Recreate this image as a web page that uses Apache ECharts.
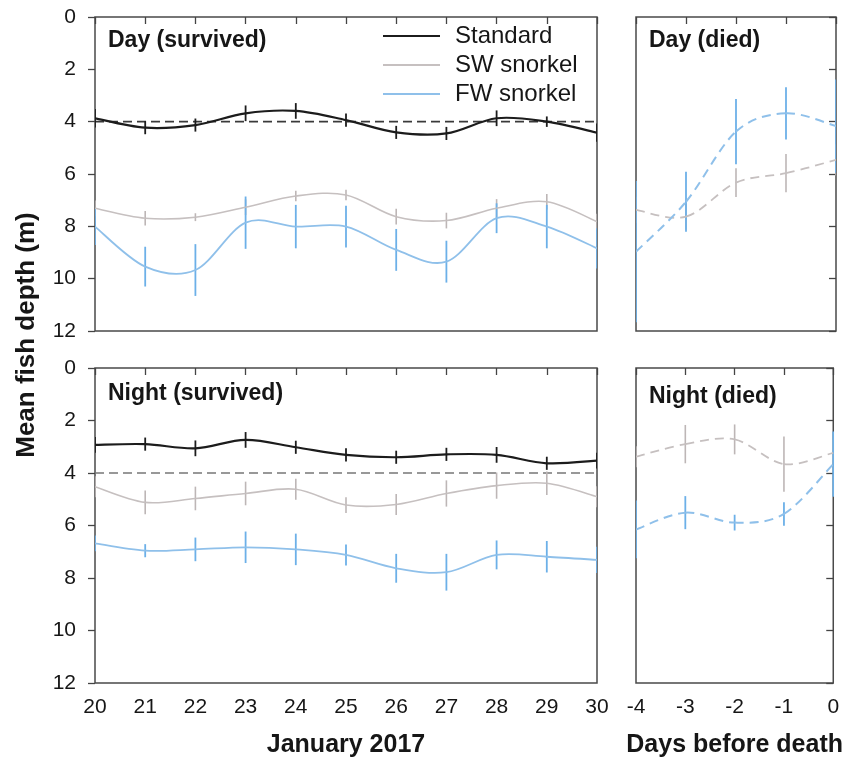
<!DOCTYPE html>
<html>
<head>
<meta charset="utf-8">
<script src="https://cdn.jsdelivr.net/npm/echarts@6/dist/echarts.min.js"></script>
<style>
html,body{margin:0;padding:0;background:#fff;}
#chart{width:845px;height:764px;}
</style>
</head>
<body>
<div id="chart"></div>
<script>
// ---- data ----
var janDays = [20, 21, 22, 23, 24, 25, 26, 27, 28, 29, 30];
var daysBefore = [-4, -3, -2, -1, 0];
var depthTicks = [0, 2, 4, 6, 8, 10, 12];
var seriesNames = ['Standard', 'SW snorkel', 'FW snorkel'];

// Day (survived)
var daySurvStd    = [3.87, 4.23, 4.13, 3.68, 3.59, 3.94, 4.41, 4.45, 3.87, 4.00, 4.42];
var daySurvStdErr = [0.35, 0.25, 0.25, 0.30, 0.30, 0.25, 0.25, 0.25, 0.30, 0.20, 0.35];
var daySurvSW     = [7.31, 7.69, 7.65, 7.27, 6.84, 6.80, 7.63, 7.78, 7.31, 7.06, 7.82];
var daySurvSWErr  = [0.30, 0.28, 0.15, 0.30, 0.20, 0.20, 0.30, 0.30, 0.35, 0.30, 0.30];
var daySurvFW     = [8.01, 9.54, 9.67, 7.86, 8.01, 8.01, 8.90, 9.35, 7.69, 8.01, 8.84];
var daySurvFWErr  = [0.70, 0.76, 0.99, 1.00, 0.83, 0.80, 0.80, 0.80, 0.57, 0.83, 0.77];

// Day (died)
var dayDiedSW     = [7.37, 7.63, 6.33, 5.97, 5.46];
var dayDiedSWErr  = [0.50, 0.50, 0.55, 0.73, 0.60];
var dayDiedFW     = [8.97, 7.06, 4.38, 3.68, 4.17];
var dayDiedFWErr  = [2.70, 1.15, 1.25, 1.00, 1.78];

// Night (survived)
var nightSurvStd    = [2.93, 2.90, 3.06, 2.74, 3.02, 3.31, 3.40, 3.29, 3.31, 3.63, 3.53];
var nightSurvStdErr = [0.30, 0.25, 0.30, 0.30, 0.25, 0.25, 0.25, 0.25, 0.30, 0.25, 0.30];
var nightSurvSW     = [4.52, 5.12, 4.97, 4.78, 4.62, 5.22, 5.20, 4.78, 4.48, 4.39, 4.90];
var nightSurvSWErr  = [0.40, 0.45, 0.45, 0.45, 0.40, 0.30, 0.40, 0.50, 0.50, 0.45, 0.40];
var nightSurvFW     = [6.68, 6.96, 6.91, 6.83, 6.91, 7.12, 7.63, 7.78, 7.12, 7.19, 7.31];
var nightSurvFWErr  = [0.30, 0.25, 0.45, 0.60, 0.60, 0.40, 0.55, 0.70, 0.55, 0.60, 0.50];

// Night (died)
var nightDiedSW     = [3.38, 2.90, 2.72, 3.66, 3.23];
var nightDiedSWErr  = [0.40, 0.73, 0.57, 1.05, 0.50];
var nightDiedFW     = [6.15, 5.51, 5.89, 5.56, 3.66];
var nightDiedFWErr  = [1.10, 0.63, 0.30, 0.45, 1.24];

var referenceDepth = 4;

// ---- styles ----
var FONT = 'Liberation Sans, Arial, sans-serif';
var C_STD = '#1c1c1c', C_SW = '#c6c0c0', C_FW = '#8fc0ea';
var C_STD_E = '#1c1c1c', C_SW_E = '#bdb6b6', C_FW_E = '#6cb0e8';

function pairs(xs, ys) { return xs.map(function (x, i) { return [x, ys[i]]; }); }
function triples(xs, ys, es) { return xs.map(function (x, i) { return [x, ys[i], es[i]]; }); }

// Smooth spline line (Catmull-Rom through data points, mapped by the axes)
function lineSeries(name, idx, xs, ys, color, width, dashed) {
  var n = xs.length;
  return {
    name: name, type: 'custom', xAxisIndex: idx, yAxisIndex: idx, clip: true, silent: true, z: 3,
    itemStyle: { color: color },
    data: pairs(xs, ys),
    renderItem: function (params, api) {
      var i = params.dataIndex;
      if (i >= n - 1) return null;
      function P(k) { k = Math.max(0, Math.min(n - 1, k)); return api.coord([xs[k], ys[k]]); }
      var p0 = P(i - 1), p1 = P(i), p2 = P(i + 1), p3 = P(i + 2);
      return {
        type: 'bezierCurve',
        shape: {
          x1: p1[0], y1: p1[1], x2: p2[0], y2: p2[1],
          cpx1: p1[0] + (p2[0] - p0[0]) / 6, cpy1: p1[1] + (p2[1] - p0[1]) / 6,
          cpx2: p2[0] - (p3[0] - p1[0]) / 6, cpy2: p2[1] - (p3[1] - p1[1]) / 6
        },
        style: { stroke: color, lineWidth: width, fill: null, lineDash: dashed ? [9, 6] : null }
      };
    }
  };
}
function errSeries(idx, xs, ys, es, color, width) {
  return {
    type: 'custom', xAxisIndex: idx, yAxisIndex: idx, clip: true, silent: true, z: 2,
    data: triples(xs, ys, es),
    renderItem: function (params, api) {
      var x = api.value(0), y = api.value(1), e = api.value(2);
      var p1 = api.coord([x, y - e]), p2 = api.coord([x, y + e]);
      return { type: 'line', shape: { x1: p1[0], y1: p1[1], x2: p2[0], y2: p2[1] },
               style: { stroke: color, lineWidth: width } };
    }
  };
}
function refSeries(idx, color) {
  return {
    type: 'line', xAxisIndex: idx, yAxisIndex: idx, silent: true, z: 1,
    symbol: 'none', showSymbol: false,
    data: [[janDays[0], referenceDepth], [janDays[janDays.length - 1], referenceDepth]],
    lineStyle: { type: [9, 5], color: color, width: 1.7 }
  };
}

var grids = [
  { left: 95, top: 17, width: 502, height: 314 },
  { left: 636, top: 17, width: 200, height: 314 },
  { left: 95, top: 368, width: 502, height: 315 },
  { left: 636, top: 368, width: 200, height: 315 }
].map(function (g) {
  g.show = true; g.borderColor = '#4a4a4a'; g.borderWidth = 1.5; g.backgroundColor = 'transparent';
  return g;
});

function xAxis(idx, min, max, showLabel, name) {
  return {
    type: 'value', gridIndex: idx, min: min, max: max, interval: 1,
    axisLine: { show: false }, splitLine: { show: false },
    axisTick: { show: true, inside: false, length: 7, lineStyle: { color: '#444', width: 1.3 } },
    axisLabel: { show: showLabel, color: '#161616', fontFamily: FONT, fontSize: 21, margin: 14 },
    name: name || '', nameLocation: 'middle', nameGap: 50,
    nameTextStyle: { color: '#161616', fontFamily: FONT, fontSize: 25, fontWeight: 'bold' }
  };
}
function yAxis(idx, showLabel) {
  return {
    type: 'value', gridIndex: idx, min: depthTicks[0], max: depthTicks[depthTicks.length - 1],
    interval: 2, inverse: true,
    axisLine: { show: false }, splitLine: { show: false },
    axisTick: { show: true, inside: false, length: 7, lineStyle: { color: '#444', width: 1.3 } },
    axisLabel: { show: showLabel, color: '#161616', fontFamily: FONT, fontSize: 21, margin: 19 }
  };
}

var series = [
  // Day survived (grid 0)
  refSeries(0, '#3a3a3a'),
  errSeries(0, janDays, daySurvSW, daySurvSWErr, C_SW_E, 1.6),
  errSeries(0, janDays, daySurvFW, daySurvFWErr, C_FW_E, 1.8),
  errSeries(0, janDays, daySurvStd, daySurvStdErr, C_STD_E, 1.8),
  lineSeries(seriesNames[0], 0, janDays, daySurvStd, C_STD, 2.2, false),
  lineSeries(seriesNames[1], 0, janDays, daySurvSW, C_SW, 1.6, false),
  lineSeries(seriesNames[2], 0, janDays, daySurvFW, C_FW, 1.8, false),
  // Day died (grid 1)
  errSeries(1, daysBefore, dayDiedSW, dayDiedSWErr, C_SW_E, 1.6),
  errSeries(1, daysBefore, dayDiedFW, dayDiedFWErr, C_FW_E, 1.8),
  lineSeries(seriesNames[1], 1, daysBefore, dayDiedSW, C_SW, 1.8, true),
  lineSeries(seriesNames[2], 1, daysBefore, dayDiedFW, C_FW, 2, true),
  // Night survived (grid 2)
  refSeries(2, '#777'),
  errSeries(2, janDays, nightSurvSW, nightSurvSWErr, C_SW_E, 1.6),
  errSeries(2, janDays, nightSurvFW, nightSurvFWErr, C_FW_E, 1.8),
  errSeries(2, janDays, nightSurvStd, nightSurvStdErr, C_STD_E, 1.8),
  lineSeries(seriesNames[0], 2, janDays, nightSurvStd, C_STD, 2.2, false),
  lineSeries(seriesNames[1], 2, janDays, nightSurvSW, C_SW, 1.6, false),
  lineSeries(seriesNames[2], 2, janDays, nightSurvFW, C_FW, 1.8, false),
  // Night died (grid 3)
  errSeries(3, daysBefore, nightDiedSW, nightDiedSWErr, C_SW_E, 1.6),
  errSeries(3, daysBefore, nightDiedFW, nightDiedFWErr, C_FW_E, 1.8),
  lineSeries(seriesNames[1], 3, daysBefore, nightDiedSW, C_SW, 1.8, true),
  lineSeries(seriesNames[2], 3, daysBefore, nightDiedFW, C_FW, 2, true)
];

var titleStyle = { color: '#161616', fontFamily: FONT, fontSize: 23, fontWeight: 'bold' };
var option = {
  animation: false,
  backgroundColor: '#fff',
  textStyle: { fontFamily: FONT },
  title: [
    { text: 'Day (survived)', left: 108, top: 29, padding: 0, textStyle: titleStyle },
    { text: 'Day (died)', left: 649, top: 29, padding: 0, textStyle: titleStyle },
    { text: 'Night (survived)', left: 108, top: 382, padding: 0, textStyle: titleStyle },
    { text: 'Night (died)', left: 649, top: 385, padding: 0, textStyle: titleStyle }
  ],
  legend: {
    data: seriesNames.map(function (s) { return { name: s, icon: 'rect' }; }),
    orient: 'vertical', left: 383, top: 24, padding: 0,
    itemWidth: 57, itemHeight: 2, itemGap: 5,
    selectedMode: false,
    textStyle: { color: '#161616', fontFamily: FONT, fontSize: 24, lineHeight: 24, padding: [0, 0, 0, 10] }
  },
  grid: grids,
  xAxis: [
    xAxis(0, janDays[0], janDays[janDays.length - 1], false),
    xAxis(1, daysBefore[0], daysBefore[daysBefore.length - 1], false),
    xAxis(2, janDays[0], janDays[janDays.length - 1], true, 'January 2017'),
    xAxis(3, daysBefore[0], daysBefore[daysBefore.length - 1], true, 'Days before death')
  ],
  yAxis: [yAxis(0, true), yAxis(1, false), yAxis(2, true), yAxis(3, false)],
  graphic: [{
    type: 'text', x: 27, y: 335, rotation: Math.PI / 2,
    style: { text: 'Mean fish depth (m)', fill: '#161616', font: 'bold 26px ' + FONT,
             textAlign: 'center', textVerticalAlign: 'middle' }
  }],
  series: series
};

var chart = echarts.init(document.getElementById('chart'), null, { renderer: 'canvas' });
chart.setOption(option);
</script>
</body>
</html>
